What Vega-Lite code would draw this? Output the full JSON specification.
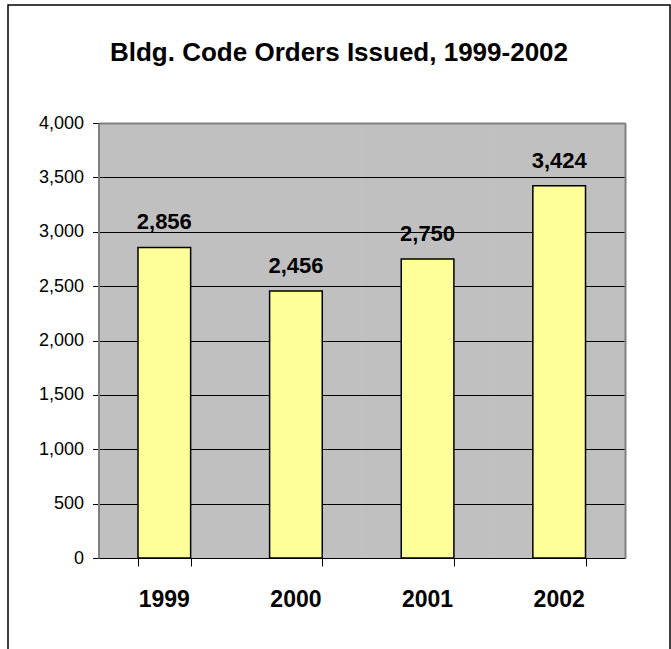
{
  "$schema": "https://vega.github.io/schema/vega-lite/v6.json",
  "width": 662,
  "height": 650,
  "autosize": {"type": "none"},
  "padding": {"left": 8, "top": 5, "right": 1, "bottom": 0},
  "background": "white",
  "title": {
    "text": "Bldg. Code Orders Issued, 1999-2002",
    "font": "Liberation Sans",
    "fontSize": 26,
    "fontWeight": "bold",
    "color": "black",
    "anchor": "middle",
    "frame": "group",
    "baseline": "alphabetic",
    "offset": -82
  },
  "config": {
    "view": {"stroke": "black", "strokeWidth": 1.5, "fill": "white"},
    "axis": {"title": null, "labelFont": "Liberation Sans", "labelColor": "black"},
    "text": {"font": "Liberation Sans"}
  },
  "data": {
    "values": [
      {"year": "1999", "orders": 2856},
      {"year": "2000", "orders": 2456},
      {"year": "2001", "orders": 2750},
      {"year": "2002", "orders": 3424}
    ]
  },
  "resolve": {"axis": {"x": "independent", "y": "independent"}},
  "layer": [
    {
      "mark": {"type": "point", "opacity": 0},
      "encoding": {
        "x": {
          "field": "year", "type": "nominal", "sort": null,
          "scale": {"type": "band", "range": [90.5, 617], "paddingInner": 0.6, "paddingOuter": 0.3},
          "axis": {
            "orient": "top", "offset": 0,
            "labels": false, "ticks": false, "domain": false,
            "grid": true, "gridColor": "#C0C0C0", "gridWidth": 132.6, "gridOpacity": 1
          }
        },
        "y": {
          "field": "orders", "type": "quantitative",
          "scale": {"domain": [0, 4000], "range": [553, 118], "nice": false},
          "axis": null
        }
      }
    },
    {
      "mark": {"type": "bar", "fill": "#FFFF99", "stroke": "black", "strokeWidth": 1.5},
      "encoding": {
        "x": {
          "field": "year", "type": "nominal", "sort": null,
          "axis": {
            "orient": "bottom", "offset": -97, "labelAngle": 0,
            "domain": true, "domainColor": "black", "domainWidth": 1,
            "ticks": false, "grid": false,
            "labelFontSize": 23, "labelFontWeight": "bold", "labelPadding": 30
          }
        },
        "y": {
          "field": "orders", "type": "quantitative",
          "axis": {
            "orient": "left", "offset": -90.5,
            "values": [0, 500, 1000, 1500, 2000, 2500, 3000, 3500, 4000],
            "labelExpr": "format(datum.value, ',')",
            "grid": true, "gridColor": "black", "gridWidth": 1, "gridOpacity": 1,
            "domain": true, "domainColor": "#808080", "domainWidth": 2,
            "ticks": true, "tickColor": "black", "tickSize": 6,
            "labelFontSize": 18, "labelPadding": 9
          }
        }
      }
    },
    {
      "mark": {"type": "text", "fontSize": 22, "fontWeight": "bold", "dy": -18, "baseline": "alphabetic", "color": "black"},
      "encoding": {
        "x": {
          "field": "year", "type": "nominal", "sort": null,
          "axis": {
            "orient": "top", "offset": -118,
            "labels": false, "ticks": false, "grid": false,
            "domain": true, "domainColor": "#808080", "domainWidth": 2
          }
        },
        "y": {
          "field": "orders", "type": "quantitative",
          "axis": {
            "orient": "right", "offset": -45,
            "labels": false, "ticks": false, "grid": false,
            "domain": true, "domainColor": "#808080", "domainWidth": 2
          }
        },
        "text": {"field": "orders", "type": "quantitative", "format": ","}
      }
    },
    {
      "mark": {"type": "point", "opacity": 0},
      "encoding": {
        "x": {
          "field": "year", "type": "nominal", "sort": null,
          "axis": {
            "orient": "bottom", "offset": -97, "tickBand": "extent",
            "labels": false, "domain": false, "grid": false,
            "ticks": true, "tickColor": "black", "tickSize": 8, "tickWidth": 1
          }
        },
        "y": {"field": "orders", "type": "quantitative", "axis": null}
      }
    }
  ]
}
